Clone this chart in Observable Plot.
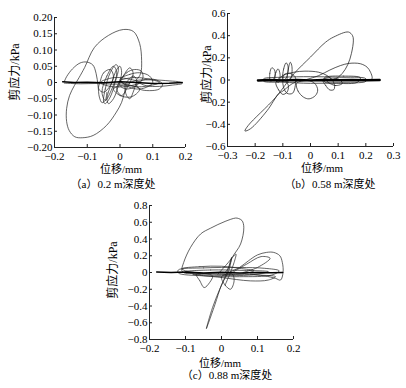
<!DOCTYPE html>
<html><head><meta charset="utf-8">
<script src="https://cdn.jsdelivr.net/npm/d3@7"></script>
<script src="https://cdn.jsdelivr.net/npm/@observablehq/plot@0.6"></script>
<style>
body{margin:0;background:#fff}
#root{position:relative;width:406px;height:388px;overflow:hidden;font-family:"Liberation Serif","Times New Roman","DejaVu Serif","Noto Sans CJK SC",serif;color:#000}
.lbl{position:absolute;font-size:11px;white-space:nowrap;transform:translate(-50%,-50%);line-height:1}
.ylbl{font-size:12px;transform:translate(-50%,-50%) rotate(-90deg)}
#root svg{position:absolute}
#root svg text{font-family:"Liberation Serif","Times New Roman","DejaVu Serif",serif !important;font-size:11px}
</style></head><body><div id="root"></div>
<script>
// ---------- Panel (a) 0.2 m ----------
const aXTicks = [-0.2, -0.1, 0, 0.1, 0.2];
const aYTicks = [-0.2, -0.15, -0.1, -0.05, 0, 0.05, 0.1, 0.15, 0.2];
const aBase = [[-0.175,0.002],[-0.14,0.0],[-0.1,0.001],[-0.05,-0.001],[0,0.002],[0.05,0.0],[0.1,-0.003],[0.15,-0.002],[0.19,0.0]];
const aBase2 = [[-0.17,-0.002],[-0.12,-0.004],[-0.07,-0.003],[-0.02,-0.005],[0.03,-0.004]];
const aBig = [[0.02,-0.01],[0.014,-0.03],[0.005,-0.061],[-0.011,-0.091],[-0.041,-0.132],[-0.082,-0.163],[-0.115,-0.17],[-0.138,-0.167],[-0.155,-0.148],[-0.163,-0.12],[-0.163,-0.08],[-0.154,-0.04],[-0.139,-0.009],[-0.125,0.015],[-0.108,0.046],[-0.078,0.108],[-0.035,0.145],[0.01,0.163],[0.041,0.157],[0.06,0.12],[0.066,0.068],[0.063,0.028],[0.05,0.008],[0.03,0.0]];
const aLobe = [[-0.17,0.003],[-0.163,0.018],[-0.145,0.042],[-0.122,0.06],[-0.102,0.063],[-0.083,0.054],[-0.073,0.028],[-0.067,-0.01],[-0.063,-0.045],[-0.055,-0.062],[-0.045,-0.055],[-0.04,-0.03]];
const aCigar = [[0.05,0.005],[0.1,0.008],[0.15,0.005],[0.185,0.001],[0.19,-0.003],[0.16,-0.008],[0.12,-0.012],[0.08,-0.01]];
const aS1 = [[-0.05,-0.06],[-0.045,-0.02],[-0.03,0.03],[-0.012,0.055],[-0.005,0.045],[-0.015,0.0],[-0.03,-0.045],[-0.045,-0.065]];
const aS2 = [[-0.04,-0.05],[-0.025,0.0],[-0.01,0.04],[0.0,0.05],[0.005,0.03],[-0.005,-0.01],[-0.02,-0.05],[-0.035,-0.065]];
const aS3 = [[0.0,0.0],[0.02,0.03],[0.045,0.04],[0.065,0.035],[0.07,0.015],[0.05,-0.01],[0.02,-0.02],[0.0,-0.01]];
const aS4 = [[0.0,0.01],[0.03,0.025],[0.06,0.03],[0.09,0.02],[0.1,0.0],[0.08,-0.015],[0.05,-0.02],[0.02,-0.01]];
const aS5 = [[-0.02,-0.02],[0.0,-0.04],[0.03,-0.045],[0.05,-0.035],[0.06,-0.02],[0.04,-0.01],[0.0,-0.01]];
const aS6 = [[-0.06,0.005],[-0.05,0.03],[-0.03,0.04],[-0.02,0.02],[-0.03,-0.01],[-0.05,-0.03],[-0.065,-0.02]];
const aS7 = [[0.05,-0.005],[0.08,0.01],[0.11,0.008],[0.13,-0.005],[0.12,-0.02],[0.09,-0.025],[0.06,-0.02]];
const aS8 = [[0.02,0.0],[0.04,0.02],[0.05,0.01],[0.04,-0.03],[0.03,-0.05],[0.02,-0.04],[0.015,-0.01]];
const aS9 = [[-0.055,-0.03],[-0.04,0.02],[-0.02,0.05],[-0.01,0.03],[-0.025,-0.02],[-0.045,-0.055]];
const aS10 = [[-0.01,-0.02],[0.01,0.02],[0.03,0.045],[0.04,0.03],[0.025,-0.01],[0.005,-0.04]];
const aS11 = [[0.0,0.005],[0.04,0.015],[0.08,0.012],[0.12,0.0],[0.09,-0.01],[0.04,-0.012]];
const aS12 = [[-0.06,0.0],[-0.02,0.015],[0.02,0.012],[0.06,0.0],[0.02,-0.012],[-0.03,-0.012]];

// ---------- Panel (b) 0.58 m ----------
const bXTicks = [-0.3, -0.2, -0.1, 0, 0.1, 0.2, 0.3];
const bYTicks = [-0.6, -0.4, -0.2, 0, 0.2, 0.4, 0.6];
const bBase = [[-0.19,-0.005],[-0.15,0.0],[-0.1,-0.004],[-0.05,0.0],[0,-0.003],[0.05,0.0],[0.1,-0.002],[0.15,0.0],[0.2,-0.002],[0.25,0.0]];
const bBig = [[-0.04,0.0],[-0.07,-0.04],[-0.1,-0.1],[-0.115,-0.124],[-0.157,-0.277],[-0.217,-0.44],[-0.237,-0.46],[-0.225,-0.41],[-0.127,-0.16],[-0.06,0.056],[0.0,0.207],[0.054,0.34],[0.084,0.388],[0.137,0.433],[0.152,0.4],[0.155,0.36],[0.148,0.24],[0.135,0.14],[0.115,0.06],[0.09,0.01],[0.07,0.0]];
const bDome = [[-0.02,0.0],[0.03,0.04],[0.07,0.09],[0.108,0.13],[0.14,0.15],[0.18,0.147],[0.205,0.115],[0.217,0.07],[0.223,0.02],[0.22,0.0]];
const bArc = [[-0.12,0.0],[-0.1,0.04],[-0.06,0.07],[-0.02,0.08],[0.03,0.07],[0.06,0.04],[0.08,0.0]];
const bSp1 = [[-0.145,-0.01],[-0.147,0.06],[-0.14,0.11],[-0.13,0.09],[-0.13,0.02]];
const bSp2 = [[-0.128,0.0],[-0.125,0.07],[-0.117,0.1],[-0.11,0.05],[-0.115,-0.02]];
const bSp3 = [[-0.1,0.0],[-0.097,0.1],[-0.088,0.155],[-0.081,0.12],[-0.087,0.02]];
const bSp4 = [[-0.083,0.0],[-0.08,0.1],[-0.073,0.16],[-0.067,0.12],[-0.072,0.01]];
const bL1 = [[-0.125,-0.02],[-0.115,-0.09],[-0.1,-0.13],[-0.085,-0.11],[-0.08,-0.05],[-0.095,0.0]];
const bL2 = [[-0.05,-0.03],[-0.045,-0.1],[-0.025,-0.155],[-0.005,-0.17],[0.018,-0.14],[0.026,-0.09],[0.015,-0.03],[-0.01,-0.005]];
const bL3 = [[-0.1,0.0],[-0.095,0.05],[-0.075,0.06],[-0.056,0.03],[-0.055,-0.05],[-0.065,-0.12],[-0.085,-0.12],[-0.098,-0.06]];
const bL4 = [[0.045,0.0],[0.055,-0.05],[0.07,-0.09],[0.085,-0.085],[0.085,-0.03],[0.07,0.02]];
const bL5 = [[0.06,-0.01],[0.09,-0.05],[0.115,-0.03],[0.1,0.01]];
const bBand = [[-0.17,0.01],[-0.1,0.025],[0.0,0.03],[0.1,0.025],[0.2,0.012],[0.2,-0.012],[0.1,-0.025],[0.0,-0.03],[-0.1,-0.02],[-0.17,-0.01]];
const bBand2 = [[0.05,0.02],[0.12,0.035],[0.18,0.02],[0.17,-0.02],[0.1,-0.03],[0.05,-0.015]];

// ---------- Panel (c) 0.88 m ----------
const cXTicks = [-0.2, -0.1, 0, 0.1, 0.2];
const cYTicks = [-0.8, -0.6, -0.4, -0.2, 0, 0.2, 0.4, 0.6, 0.8];
const cBase = [[-0.18,0.005],[-0.14,0.0],[-0.1,0.006],[-0.05,-0.005],[0,0.004],[0.05,-0.006],[0.1,0.0],[0.14,-0.004],[0.17,0.0]];
const cBig = [[0.01,0.0],[0.02,0.06],[0.03,0.18],[0.053,0.34],[0.062,0.54],[0.057,0.62],[0.047,0.645],[0.039,0.65],[0.01,0.61],[-0.03,0.53],[-0.058,0.46],[-0.086,0.3],[-0.105,0.12],[-0.11,0.02],[-0.1,-0.01],[-0.06,0.0]];
const cDome = [[0.02,0.0],[0.05,0.06],[0.075,0.14],[0.1,0.21],[0.125,0.24],[0.145,0.24],[0.162,0.2],[0.169,0.12],[0.171,0.0],[0.164,-0.09],[0.15,-0.07],[0.12,-0.04],[0.08,-0.02]];
const cDome2 = [[0.03,0.0],[0.07,0.1],[0.11,0.19],[0.135,0.17],[0.1,0.06],[0.06,0.0]];
const cUp = [[-0.01,-0.02],[0.015,0.1],[0.04,0.22],[0.035,0.12],[0.02,-0.05],[0.01,-0.15]];
const cSpike = [[0.028,0.18],[0.015,0.0],[-0.005,-0.2],[-0.025,-0.42],[-0.042,-0.67],[-0.036,-0.6],[-0.018,-0.38],[0.0,-0.15],[0.02,0.02]];
const cE1 = [[-0.12,0.03],[-0.05,0.055],[0.05,0.06],[0.12,0.05],[0.16,0.02],[0.14,-0.03],[0.05,-0.05],[-0.05,-0.04],[-0.12,-0.005]];
const cE2 = [[-0.11,0.045],[-0.06,0.07],[0.0,0.075],[0.05,0.05],[0.09,0.02],[0.05,-0.02],[-0.05,-0.01],[-0.1,0.02]];
const cE3 = [[-0.08,-0.02],[0.0,-0.06],[0.08,-0.1],[0.13,-0.09],[0.15,-0.05],[0.1,-0.03],[0.0,-0.015]];
const cE4 = [[-0.1,0.01],[-0.03,0.03],[0.06,0.025],[0.13,0.01],[0.08,-0.03],[0.0,-0.035],[-0.07,-0.02]];
const cL1 = [[-0.07,-0.02],[-0.06,-0.1],[-0.048,-0.18],[-0.033,-0.12],[-0.025,-0.04]];
const cL2 = [[0.0,-0.05],[0.01,-0.15],[0.025,-0.2],[0.035,-0.1],[0.03,-0.02]];

const yLabel = "剪应力/kPa";
const xLabel = "位移/mm";
const captions = ["（a）0.2 m深度处", "（b）0.58 m深度处", "（c）0.88 m深度处"];

// ---------- helpers ----------
const rows = paths => paths.flatMap((p, i) => p.map(([x, y]) => ({x, y, id: i})));
const minus = s => s.replace("-", "\u2212");
const fmt = d => v => v === 0 ? "0" : minus(v.toFixed(d));

function panel(c) {
  const [x0, x1] = c.xDomain, [y0, y1] = c.yDomain;
  const pw = c.width - c.ml - c.mr, ph = c.height - c.mt - c.mb;
  const tx = (x1 - x0) * 3 / pw, ty = (y1 - y0) * 3 / ph;
  const svg = Plot.plot({
    width: c.width, height: c.height,
    marginLeft: c.ml, marginRight: c.mr, marginTop: c.mt, marginBottom: c.mb,
    style: {fontFamily: '"Liberation Serif", "Times New Roman", serif', fontSize: "11px", background: "transparent", overflow: "visible", color: "#000"},
    x: {domain: c.xDomain},
    y: {domain: c.yDomain},
    marks: [
      Plot.line(rows(c.open), {x: "x", y: "y", z: "id", curve: "catmull-rom", stroke: "#222", strokeWidth: c.sw}),
      Plot.line(rows(c.closed), {x: "x", y: "y", z: "id", curve: "catmull-rom-closed", stroke: "#222", strokeWidth: c.sw}),
      Plot.line(rows(c.base), {x: "x", y: "y", z: "id", curve: "linear", stroke: "#000", strokeWidth: c.bw}),
      Plot.ruleX([x0], {stroke: "#222", strokeWidth: 1}),
      Plot.ruleY([y0], {stroke: "#222", strokeWidth: 1}),
      Plot.ruleX(c.xTicks, {x: d => d, y1: y0, y2: y0 + ty, stroke: "#222"}),
      Plot.ruleY(c.yTicks, {y: d => d, x1: x0, x2: x0 + tx, stroke: "#222"}),
      Plot.axisX({ticks: c.xTicks, tickSize: 0, tickPadding: 5, tickFormat: c.xFmt, label: null}),
      Plot.axisY({ticks: c.yTicks, tickSize: 0, tickPadding: 2, tickFormat: c.yFmt, label: null})
    ]
  });
  svg.style.left = c.left + "px";
  svg.style.top = c.top + "px";
  document.getElementById("root").appendChild(svg);
}

function label(text, x, y, cls) {
  const d = document.createElement("div");
  d.className = "lbl" + (cls ? " " + cls : "");
  d.textContent = text;
  d.style.left = x + "px";
  d.style.top = y + "px";
  document.getElementById("root").appendChild(d);
}

panel({left: 0, top: 0, width: 195, height: 163, ml: 54, mr: 10, mt: 17, mb: 16,
  xDomain: [-0.2, 0.2], yDomain: [-0.2, 0.2], xTicks: aXTicks, yTicks: aYTicks,
  xFmt: fmt(1), yFmt: fmt(2), sw: 0.7, bw: 1.5,
  open: [aBig, aLobe, aBase2], closed: [aCigar, aS1, aS2, aS3, aS4, aS5, aS6, aS7, aS8, aS9, aS10, aS11, aS12], base: [aBase]});

panel({left: 200, top: 0, width: 206, height: 162, ml: 27, mr: 13, mt: 13, mb: 16,
  xDomain: [-0.3, 0.3], yDomain: [-0.6, 0.6], xTicks: bXTicks, yTicks: bYTicks,
  xFmt: fmt(1), yFmt: fmt(1), sw: 0.75, bw: 2.4,
  open: [bBig, bDome, bArc], closed: [bSp1, bSp2, bSp3, bSp4, bL1, bL2, bL3, bL4, bL5, bBand, bBand2], base: [bBase]});

panel({left: 100, top: 190, width: 200, height: 165, ml: 49, mr: 7, mt: 15, mb: 16,
  xDomain: [-0.2, 0.2], yDomain: [-0.8, 0.8], xTicks: cXTicks, yTicks: cYTicks,
  xFmt: fmt(1), yFmt: fmt(1), sw: 0.7, bw: 1.5,
  open: [cBig, cDome, cDome2, cUp], closed: [cSpike, cE1, cE2, cE3, cE4, cL1, cL2], base: [cBase]});

label(yLabel, 15, 72, "ylbl");
label(xLabel, 121, 169);
label(captions[0], 113, 184);
label(yLabel, 207, 74, "ylbl");
label(xLabel, 322, 168);
label(captions[1], 330, 184);
label(yLabel, 113, 270, "ylbl");
label(xLabel, 220, 363);
label(captions[2], 227, 375);
</script></body></html>
